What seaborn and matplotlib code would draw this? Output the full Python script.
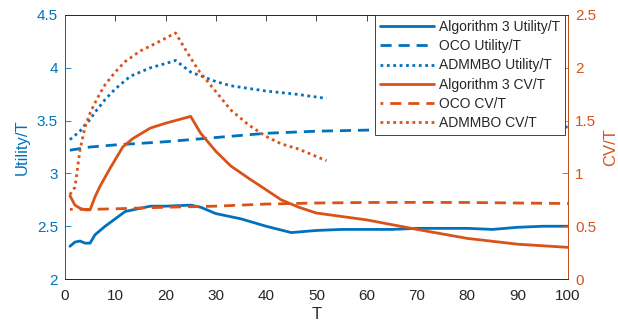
import matplotlib
matplotlib.use("Agg")
import matplotlib.pyplot as plt
import seaborn as sns

# values
t_alg_u = [1, 2, 3, 4, 5, 6, 8, 10, 12, 15, 17, 20, 25, 27, 30, 35, 40, 45, 50, 55, 60, 65, 70, 75, 80, 85, 90, 95, 100]
alg_u = [2.31, 2.35, 2.36, 2.34, 2.34, 2.42, 2.50, 2.57, 2.64, 2.67, 2.69, 2.69, 2.70, 2.68, 2.62, 2.57, 2.50, 2.44, 2.46, 2.47, 2.47, 2.47, 2.48, 2.48, 2.48, 2.47, 2.49, 2.50, 2.50]

t_oco = [1, 5, 10, 20, 30, 40, 50, 60, 70, 80, 90, 100]
oco_u = [3.22, 3.25, 3.27, 3.30, 3.34, 3.38, 3.40, 3.41, 3.42, 3.43, 3.435, 3.44]
oco_cv = [0.66, 0.66, 0.665, 0.68, 0.69, 0.71, 0.72, 0.725, 0.726, 0.725, 0.72, 0.715]

t_adm = [1, 2, 3, 4, 5, 6, 8, 10, 13, 17, 20, 22, 25, 30, 33, 40, 46, 52]
adm_u = [3.32, 3.36, 3.40, 3.46, 3.51, 3.58, 3.70, 3.80, 3.92, 4.00, 4.04, 4.07, 3.96, 3.87, 3.83, 3.78, 3.75, 3.71]

t_alg_cv = [1, 2, 3, 4, 5, 6, 7, 9, 11.5, 13.5, 17, 20, 25, 27, 30, 33, 36.5, 40, 43, 46.5, 50, 60, 70, 80, 90, 100]
alg_cv = [0.79, 0.70, 0.67, 0.655, 0.655, 0.78, 0.88, 1.05, 1.25, 1.33, 1.43, 1.475, 1.54, 1.38, 1.21, 1.07, 0.955, 0.845, 0.75, 0.68, 0.625, 0.56, 0.47, 0.385, 0.33, 0.30]

t_adm_cv = [1, 2, 3, 4, 5, 6, 7, 8, 10, 12, 15, 18, 20, 22, 24, 26.5, 30, 33, 36.5, 40, 43, 46.5, 49, 52]
adm_cv = [0.80, 0.87, 1.22, 1.44, 1.57, 1.67, 1.76, 1.84, 1.96, 2.06, 2.16, 2.23, 2.28, 2.33, 2.17, 1.98, 1.775, 1.60, 1.46, 1.35, 1.28, 1.23, 1.18, 1.12]

blue = "#0072BD"
orange = "#D95319"

sns.set_style("white")
plt.rcParams["font.family"] = ["Liberation Sans", "DejaVu Sans"]
plt.rcParams["font.size"] = 11

fig = plt.figure(figsize=(6.18, 3.26), dpi=100)
ax = fig.add_axes([0.105, 0.144, 0.814, 0.81])
ax2 = ax.twinx()

lw = 2.0
dash = (0, (4, 2.5))
dot = (0, (1, 1.3))

sns.lineplot(x=t_alg_u, y=alg_u, ax=ax, color=blue, lw=lw, label="Algorithm 3 Utility/T", legend=False)
sns.lineplot(x=t_oco, y=oco_u, ax=ax, color=blue, lw=lw, linestyle=dash, label="OCO Utility/T", legend=False)
sns.lineplot(x=t_adm, y=adm_u, ax=ax, color=blue, lw=lw, linestyle=dot, label="ADMMBO Utility/T", legend=False)
sns.lineplot(x=t_alg_cv, y=alg_cv, ax=ax2, color=orange, lw=lw, label="Algorithm 3 CV/T", legend=False)
sns.lineplot(x=t_oco, y=oco_cv, ax=ax2, color=orange, lw=lw, linestyle=(3, (4, 2.5)), label="OCO CV/T", legend=False)
sns.lineplot(x=t_adm_cv, y=adm_cv, ax=ax2, color=orange, lw=lw, linestyle=dot, label="ADMMBO CV/T", legend=False)

ax.set_xlim(0, 100)
ax.set_ylim(2, 4.5)
ax2.set_ylim(0, 2.5)
ax.set_xticks(range(0, 101, 10))
ax.set_yticks([2, 2.5, 3, 3.5, 4, 4.5])
ax.set_yticklabels(["2", "2.5", "3", "3.5", "4", "4.5"])
ax2.set_yticks([0, 0.5, 1, 1.5, 2, 2.5])
ax2.set_yticklabels(["0", "0.5", "1", "1.5", "2", "2.5"])

ax.set_xlabel("T", color="#262626", labelpad=3, fontsize=12)
ax.set_ylabel("Utility/T", color=blue, labelpad=5, fontsize=12)
ax2.set_ylabel("CV/T", color=orange, labelpad=5, fontsize=12)

for a in (ax, ax2):
    for s in a.spines.values():
        s.set_color("#262626")
        s.set_linewidth(0.6)
ax2.spines["left"].set_color(blue)
ax2.spines["right"].set_color(orange)
ax.tick_params(axis="x", direction="in", length=4, colors="#262626", width=0.6, top=True, pad=7)
ax.tick_params(axis="y", direction="in", length=4, colors=blue, width=0.6, pad=5)
ax2.tick_params(axis="y", direction="in", length=4, colors=orange, width=0.6, pad=5)

h1, l1 = ax.get_legend_handles_labels()
h2, l2 = ax2.get_legend_handles_labels()
leg = ax2.legend(h1 + h2, l1 + l2, loc="upper right", fontsize=10, frameon=True,
                 fancybox=False, edgecolor="#262626", framealpha=1, borderpad=0.35,
                 labelspacing=0.38, handlelength=3.9, handletextpad=0.35,
                 borderaxespad=0, bbox_to_anchor=(0.994, 1.0))
leg.get_frame().set_linewidth(0.6)

fig.savefig("out.png", dpi=100)
